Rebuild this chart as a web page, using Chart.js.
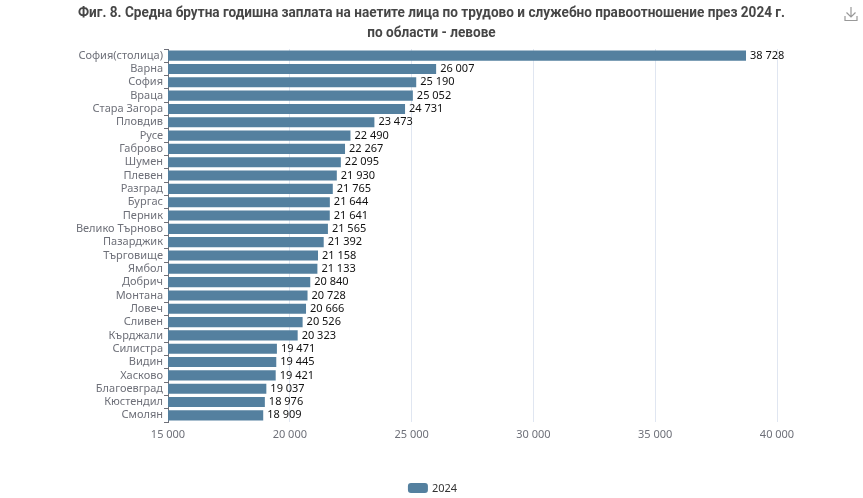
<!DOCTYPE html>
<html>
<head>
<meta charset="utf-8">
<script src="https://cdn.jsdelivr.net/npm/chart.js@4/dist/chart.umd.min.js"></script>
<style>
  html, body { margin: 0; padding: 0; background: #fff; }
  #wrap { position: relative; width: 863px; height: 498px; }
  #icon { position: absolute; left: 844px; top: 6px; }
</style>
</head>
<body>
<div id="wrap">
  <canvas id="chart" width="863" height="498"></canvas>
  <svg id="icon" width="14" height="16" viewBox="0 0 14 16" fill="none" stroke="#999" stroke-width="1.2">
    <path d="M7 1 V11 M2.5 6.5 L7 11 L11.5 6.5 M1 10 V14.5 H13 V10"/>
  </svg>
</div>
<script>
// data
const regions = ["София(столица)", "Варна", "София", "Враца", "Стара Загора", "Пловдив", "Русе", "Габрово",
  "Шумен", "Плевен", "Разград", "Бургас", "Перник", "Велико Търново", "Пазарджик", "Търговище", "Ямбол",
  "Добрич", "Монтана", "Ловеч", "Сливен", "Кърджали", "Силистра", "Видин", "Хасково", "Благоевград",
  "Кюстендил", "Смолян"];
const salary2024 = [38728, 26007, 25190, 25052, 24731, 23473, 22490, 22267, 22095, 21930, 21765, 21644,
  21641, 21565, 21392, 21158, 21133, 20840, 20728, 20666, 20526, 20323, 19471, 19445, 19421, 19037,
  18976, 18909];
const xTicks = [15000, 20000, 25000, 30000, 35000, 40000];
const titleLines = ["Фиг. 8. Средна брутна годишна заплата на наетите лица по трудово и служебно правоотношение през 2024 г.",
  "по области - левове"];
const BAR_COLOR = "#54809f";

function fmt(v) {
  return String(v).replace(/\B(?=(\d{3})+(?!\d))/g, " ");
}

// value labels at the end of each bar
const barLabels = {
  id: "barLabels",
  afterDatasetsDraw(chart) {
    const ctx = chart.ctx;
    const meta = chart.getDatasetMeta(0);
    ctx.save();
    ctx.font = "11px 'Noto Sans'";
    ctx.fillStyle = "#111";
    ctx.textAlign = "left";
    ctx.textBaseline = "middle";
    meta.data.forEach(function (bar, i) {
      ctx.fillText(fmt(salary2024[i]), bar.x + 4, bar.y);
    });
    ctx.restore();
  }
};

// condensed bold title (squeezed horizontally) and the legend at the bottom
const decorations = {
  id: "decorations",
  afterDraw(chart) {
    const ctx = chart.ctx;
    ctx.save();
    ctx.font = "bold 15px 'Roboto'";
    ctx.fillStyle = "#464646";
    ctx.textBaseline = "middle";
    const k = 707 / ctx.measureText(titleLines[0]).width;
    const cx = chart.width / 2;
    [13, 33].forEach(function (y, i) {
      ctx.save();
      ctx.translate(cx, y);
      ctx.scale(k, 1);
      ctx.textAlign = "center";
      ctx.fillText(titleLines[i], 0, 0);
      ctx.restore();
    });

    // legend
    const label = chart.data.datasets[0].label;
    ctx.font = "11px 'Noto Sans'";
    const tw = ctx.measureText(label).width;
    const total = 20 + 4 + tw;
    const lx = cx - total / 2 + 1;
    ctx.fillStyle = BAR_COLOR;
    ctx.beginPath();
    ctx.roundRect(lx, 483, 20, 10, 3);
    ctx.fill();
    ctx.fillStyle = "#333";
    ctx.textAlign = "left";
    ctx.fillText(label, lx + 24, 488.5);
    ctx.restore();
  }
};

const ctx = document.getElementById("chart").getContext("2d");
const chart = new Chart(ctx, {
  type: "bar",
  data: {
    labels: regions,
    datasets: [{
      label: "2024",
      data: salary2024,
      backgroundColor: BAR_COLOR,
      borderWidth: 0,
      barPercentage: 0.76,
      categoryPercentage: 1
    }]
  },
  plugins: [barLabels, decorations],
  options: {
    indexAxis: "y",
    responsive: false,
    animation: false,
    layout: { padding: { left: 0, right: 86, top: 49, bottom: 0 } },
    scales: {
      x: {
        min: 15000,
        max: 40000,
        afterBuildTicks: function (scale) {
          scale.ticks = xTicks.map(function (v) { return { value: v }; });
        },
        afterFit: function (scale) { scale.height = 76; },
        grid: { color: "#e0e6f1", drawTicks: false },
        border: { display: false },
        ticks: {
          color: "#6e7079",
          font: { family: "Noto Sans", size: 11 },
          padding: 6,
          maxRotation: 0,
          callback: function (v) { return fmt(v); }
        }
      },
      y: {
        afterFit: function (scale) { scale.width = 168; },
        grid: { drawOnChartArea: false, drawTicks: true, tickLength: 4, color: "#6e7079" },
        border: { display: true, color: "#6e7079" },
        ticks: {
          color: "#6e7079",
          font: { family: "Noto Sans", size: 11 },
          padding: 1,
          autoSkip: false
        }
      }
    },
    plugins: {
      title: { display: false },
      legend: { display: false },
      tooltip: { enabled: false }
    }
  }
});
</script>
</body>
</html>
